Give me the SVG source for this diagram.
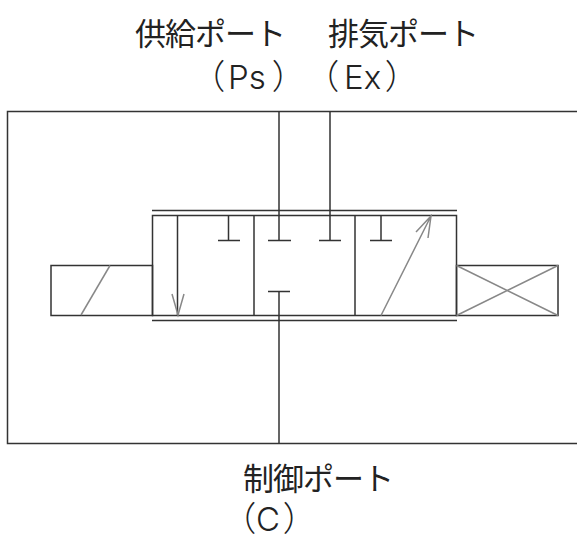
<svg xmlns="http://www.w3.org/2000/svg" width="577" height="535" viewBox="0 0 577 535">
<style>
text{font-family:"Noto Sans","Noto Sans CJK JP",sans-serif;fill:#222}
.j{font-size:31px;font-weight:400}
.p{font-size:34px;font-weight:300;font-feature-settings:"palt"}
.a{font-family:Inter,"Noto Sans",sans-serif;font-size:33px;font-weight:300}
.l{fill:none;stroke:#333;stroke-width:1.5}
.g{fill:none;stroke:#888;stroke-width:1.5}
</style>
<rect width="577" height="535" fill="#fff"/>
<g id="label-supply"><text class="j" x="135" y="45" textLength="151">供給ポート</text><text class="p" y="89"><tspan x="207">（</tspan><tspan class="a" x="228">Ps</tspan><tspan x="273">）</tspan></text></g>
<g id="label-exhaust"><text class="j" x="328" y="45" textLength="151">排気ポート</text><text class="p" y="89"><tspan x="321">（</tspan><tspan class="a" x="344">Ex</tspan><tspan x="386">）</tspan></text></g>
<g id="label-control"><text class="j" x="243" y="490" textLength="151">制御ポート</text><text class="p" y="531"><tspan x="238">（</tspan><tspan class="a" x="256">C</tspan><tspan x="284">）</tspan></text></g>
<g id="housing"><path class="l" d="M577 111.500H7.500V443.500H577"/></g>
<g id="connectors">
<path class="l" d="M279 111.500V240M330 111.500V240M279 291V443.500"/>
</g>
<g id="valve">
<path class="l" d="M152 210.500H457M152 320.500H457"/>
<rect class="l" x="152.500" y="215.500" width="304" height="100"/>
<path class="l" d="M254 215.500V315.500M355 215.500V315.500"/>
<path class="l" d="M218 240.500H240M268 240.500H291M319 240.500H341M370 240.500H392M268 291.500H290M228.500 215.500V240.500M381 215.500V240.500"/>
<path class="l" d="M177.500 215.500V315"/>
<path class="g" d="M172 294L178 315L184 294M381 315.500L431 216M416 232L431 216L428 238"/>
</g>
<g id="solenoid"><rect class="l" x="51" y="265.500" width="101.500" height="50"/><path class="g" d="M81 315L110 265.500"/></g>
<g id="spring"><rect class="l" x="456.500" y="265.500" width="101.500" height="50"/><path class="g" d="M456.500 265.500L558 315.500M456.500 315.500L558 265.500"/></g>
</svg>
